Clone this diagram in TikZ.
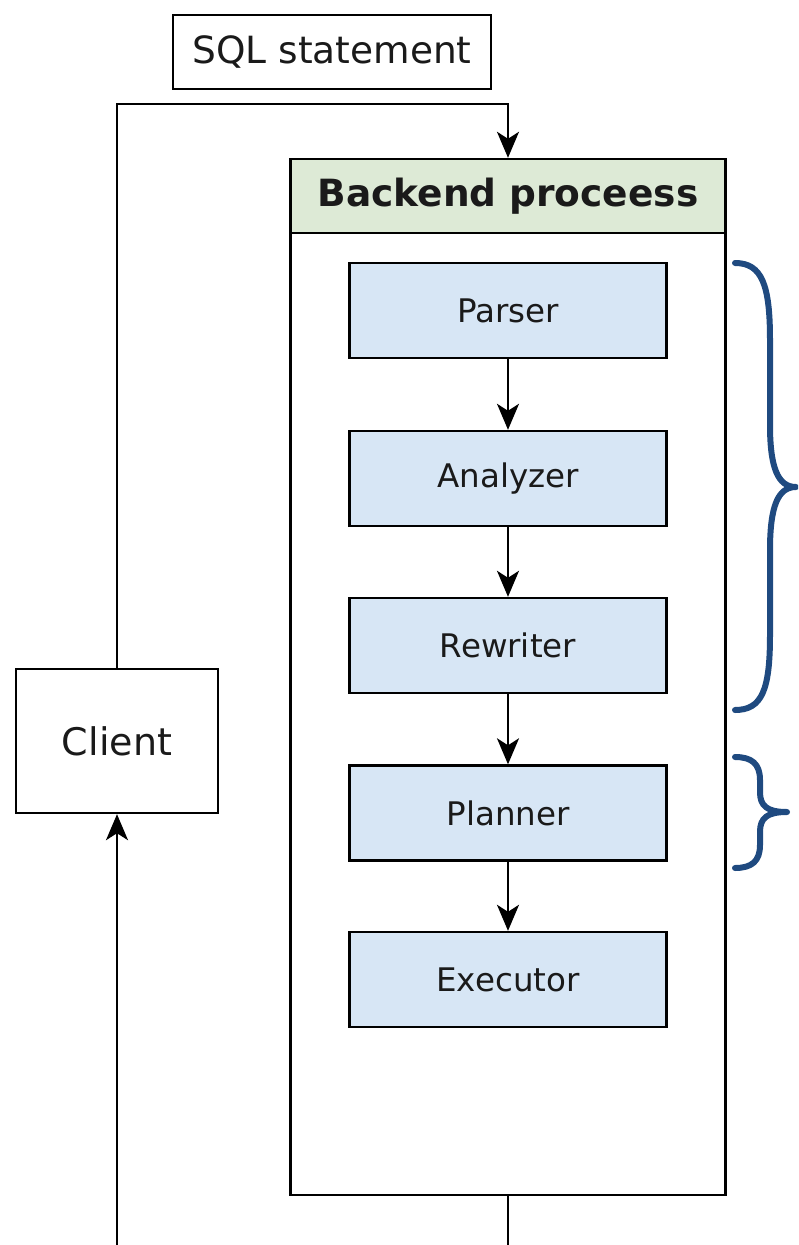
\documentclass[tikz,border=0pt]{standalone}
\usepackage{fontspec}
\setmainfont{DejaVu Sans}
\usetikzlibrary{arrows.meta}
\definecolor{headgreen}{HTML}{DDEAD6}
\definecolor{stageblue}{HTML}{D7E6F5}
\definecolor{bracecol}{HTML}{1F4A80}
\definecolor{inkc}{HTML}{1A1A1A}
\begin{document}
\begin{tikzpicture}[x=1pt,y=-1pt,
  box/.style={draw=black, line width=2.4pt, inner sep=0pt, text=inkc},
  stage/.style={box, fill=stageblue, minimum width=317pt, minimum height=95pt, font=\fontsize{32.5}{36}\selectfont},
  link/.style={line width=2.4pt, -{Stealth[length=26pt,width=22pt,inset=7pt]}},
  bracestyle/.style={draw=bracecol, line width=6pt, line cap=round, line join=round}]
\useasboundingbox (0,0) rectangle (798,1245);
\clip (0,0) rectangle (798,1245);

% client and the statement label
\node[box, minimum width=318pt, minimum height=74pt, font=\fontsize{37.5}{40}\selectfont] (sql) at (332,52) {SQL statement};
\node[box, minimum width=202pt, minimum height=144pt, font=\fontsize{38}{42}\selectfont] (client) at (117,741) {Client};

% backend process frame with header
\node[box, minimum width=435pt, minimum height=1036pt] (back) at (508,677) {};
\node[box, fill=headgreen, minimum width=435pt, minimum height=74pt, font=\bfseries\fontsize{37.5}{40}\selectfont] (head) at (508,196) {Backend proceess};

% query processing stages
\node[stage] (parser)   at (508,310.5) {Parser};
\node[stage] (analyzer) at (508,478.5) {Analyzer};
\node[stage] (rewriter) at (508,645.5) {Rewriter};
\node[stage] (planner)  at (508,813)   {Planner};
\node[stage] (executor) at (508,979.5) {Executor};

\draw[link] (parser) -- (analyzer);
\draw[link] (analyzer) -- (rewriter);
\draw[link] (rewriter) -- (planner);
\draw[link] (planner) -- (executor);

% request path and result path
\coordinate (topturn) at (508,104);
\coordinate (botturn) at (508,1262);
\draw[link] (client.north) |- (topturn) -- (head.north);
\draw[link] (back.south) -- (botturn) -| (client.south);

% braces grouping the stages
\draw[bracestyle] (735,263) .. controls (762,263) and (770,285) .. (770,340)
  -- (770,425) .. controls (770,468) and (778,487) .. (796,487)
  .. controls (778,487) and (770,506) .. (770,550)
  -- (770,635) .. controls (770,690) and (762,710) .. (735,710);
\draw[bracestyle] (735,757) .. controls (752,757) and (760,764) .. (760,780)
  -- (760,792) .. controls (760,806) and (767,812) .. (787,812)
  .. controls (767,812) and (760,818) .. (760,832)
  -- (760,845) .. controls (760,861) and (752,868) .. (735,868);
\end{tikzpicture}
\end{document}
